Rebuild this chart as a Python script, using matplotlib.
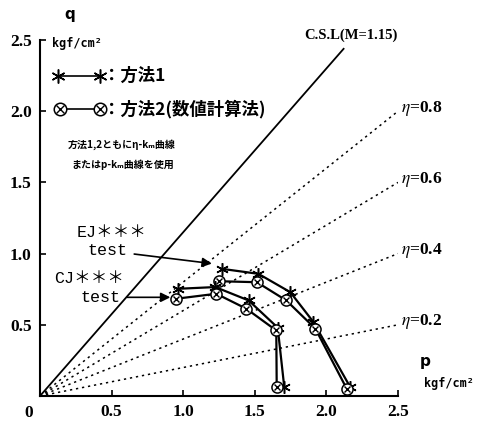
import matplotlib
matplotlib.use("Agg")
import matplotlib.pyplot as plt

# EJ test (outer curve)
ej_p_m1 = [1.27, 1.525, 1.748, 1.909, 2.165]
ej_q_m1 = [0.893, 0.858, 0.729, 0.520, 0.065]
ej_p_m2 = [1.253, 1.515, 1.72, 1.923, 2.144]
ej_q_m2 = [0.806, 0.799, 0.671, 0.473, 0.047]

# CJ test (inner curve)
cj_p_m1 = [0.967, 1.224, 1.457, 1.66, 1.706]
cj_q_m1 = [0.753, 0.765, 0.671, 0.48, 0.06]
cj_p_m2 = [0.951, 1.231, 1.441, 1.65, 1.653]
cj_q_m2 = [0.683, 0.718, 0.613, 0.46, 0.065]

csl_m = 1.15
csl_pmax = 2.12
etas = [0.8, 0.6, 0.4, 0.2]
ticks = [0, 0.5, 1.0, 1.5, 2.0, 2.5]
tick_labels = ["0", "0.5", "1.0", "1.5", "2.0", "2.5"]

CJK = ["Noto Sans CJK JP", "DejaVu Sans"]
SERIF = "Liberation Serif"
MONO = ["Liberation Mono", "Noto Sans CJK JP"]
plt.rcParams["mathtext.fontset"] = "stix"

fig = plt.figure(figsize=(4.9, 4.23), dpi=100)
ax = fig.add_axes([40 / 490, 27 / 423, 358 / 490, 356 / 423])
ax.set_xlim(0, 2.5)
ax.set_ylim(0, 2.5)
ax.spines[["top", "right"]].set_visible(False)
for s in ["left", "bottom"]:
    ax.spines[s].set_linewidth(1.5)
ax.tick_params(direction="in", length=4, width=1.2)
ax.set_xticks(ticks)
ax.set_yticks(ticks[1:])
ax.set_xticklabels([""] + tick_labels[1:], fontfamily=SERIF, fontweight="bold", fontsize=12.5)
ax.set_yticklabels(tick_labels[1:], fontfamily=SERIF, fontweight="bold", fontsize=12.5)
ax.tick_params(axis="x", pad=6)
ax.tick_params(axis="y", pad=6)
ax.text(-0.08, -0.06, "0", fontfamily=SERIF, fontweight="bold", fontsize=12.5,
        ha="center", va="top", clip_on=False)

# CSL and eta lines
ax.plot([0, csl_pmax], [0, csl_m * csl_pmax], color="black", lw=1.3)
ax.text(csl_pmax + 0.05, 2.53, "C.S.L(M=1.15)", fontfamily=SERIF, fontweight="bold",
        fontsize=10.5, ha="center", va="center", clip_on=False)
for eta in etas:
    ax.plot([0, 2.5], [0, eta * 2.5], color="black", lw=1.1, ls=(0, (1.5, 2.5)))
    ax.text(2.52, eta * 2.5 + 0.02, r"$\eta$" + f"={eta}", fontfamily=SERIF, fontweight="bold",
            fontsize=12.5, ha="left", va="center", clip_on=False)


def curve_m1(p, q):
    ax.plot(p, q, color="black", lw=1.6, marker=(6, 2, 0), ms=9, mew=1.1)


def curve_m2(p, q):
    ax.plot(p, q, color="black", lw=1.6, marker="o", ms=8, mfc="white", mew=1.1)
    ax.plot(p, q, ls="none", color="black", marker="x", ms=5, mew=1.0)


curve_m1(ej_p_m1, ej_q_m1)
curve_m2(ej_p_m2, ej_q_m2)
curve_m1(cj_p_m1, cj_q_m1)
curve_m2(cj_p_m2, cj_q_m2)

# legend drawn by hand
ax.plot([0.126, 0.42], [2.245, 2.245], color="black", lw=1.2, marker=(6, 2, 0), ms=10, mew=1.1, clip_on=False)
ax.text(0.44, 2.245, "：方法1", family=CJK, fontsize=12.5, fontweight="bold", ha="left", va="center")
ax.plot([0.14, 0.42], [2.014, 2.014], color="black", lw=1.2, marker="o", ms=9, mfc="white", mew=1.1, clip_on=False)
ax.plot([0.14, 0.42], [2.014, 2.014], ls="none", color="black", marker="x", ms=6, mew=1.0, clip_on=False)
ax.text(0.44, 2.014, "：方法2(数値計算法)", family=CJK, fontsize=12.5, fontweight="bold",
        ha="left", va="center")
ax.text(0.19, 1.765, "方法1,2ともにη-kₘ曲線", family=CJK, fontsize=7.2, fontweight="bold",
        ha="left", va="center")
ax.text(0.22, 1.625, "またはp-kₘ曲線を使用", family=CJK, fontsize=7.2, fontweight="bold",
        ha="left", va="center")

# axis labels
ax.text(0.21, 2.68, "q", fontfamily="DejaVu Sans", fontweight="bold", fontsize=11,
        ha="center", va="center", clip_on=False)
ax.text(0.084, 2.475, "kgf/cm²", fontfamily="DejaVu Sans Mono", fontweight="bold", fontsize=8.5,
        ha="left", va="center", clip_on=False)
ax.text(2.69, 0.24, "p", fontfamily="DejaVu Sans", fontweight="bold", fontsize=11,
        ha="center", va="center", clip_on=False)
ax.text(2.685, 0.09, "kgf/cm²", fontfamily="DejaVu Sans Mono", fontweight="bold", fontsize=8.5,
        ha="left", va="center", clip_on=False)

# test annotations
ax.text(0.50, 1.148, "EJ＊＊＊", family=MONO, fontsize=12, ha="center", va="center")
ax.annotate("test", xy=(1.20, 0.93), xytext=(0.47, 1.02), family=MONO, fontsize=12,
            ha="center", va="center",
            arrowprops=dict(arrowstyle="-|>", color="black", lw=1.2, mutation_scale=14,
                            shrinkA=3, shrinkB=0))
ax.text(0.34, 0.825, "CJ＊＊＊", family=MONO, fontsize=12, ha="center", va="center")
ax.annotate("test", xy=(0.91, 0.693), xytext=(0.42, 0.693), family=MONO, fontsize=12,
            ha="center", va="center",
            arrowprops=dict(arrowstyle="-|>", color="black", lw=1.2, mutation_scale=14,
                            shrinkA=3, shrinkB=0))

fig.savefig("out.png", dpi=100)
